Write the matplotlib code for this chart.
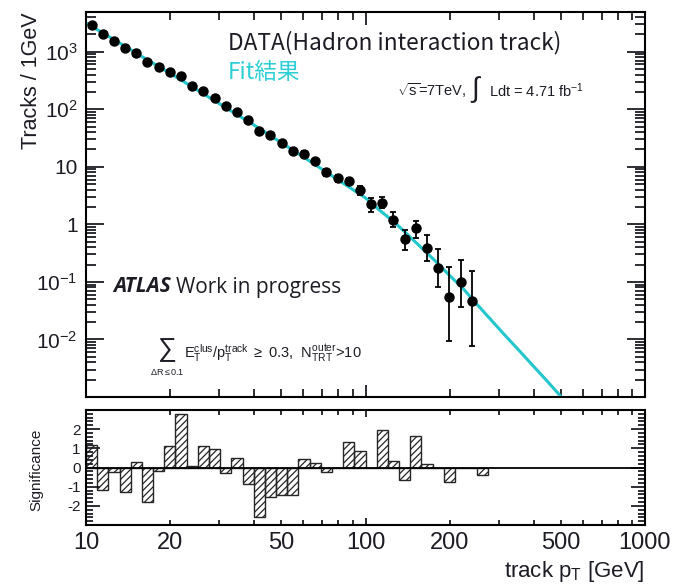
import numpy as np
import matplotlib
matplotlib.use("Agg")
import matplotlib.pyplot as plt
from matplotlib.ticker import FixedLocator, NullFormatter, FuncFormatter

plt.rcParams["font.family"] = ["Liberation Sans", "DejaVu Sans"]
plt.rcParams["mathtext.fontset"] = "custom"
plt.rcParams["mathtext.rm"] = "Liberation Sans"
plt.rcParams["mathtext.it"] = "Liberation Sans"
plt.rcParams["mathtext.bf"] = "Liberation Sans:bold"
plt.rcParams["hatch.linewidth"] = 0.9

# 0.04 wide bins in log10(pT), from 10 GeV
bin_edges = np.logspace(1.0, 2.44, 37)
pt_centres = np.sqrt(bin_edges[:-1] * bin_edges[1:])

# tracks / GeV in the filled bins
tracks = [2911, 2028, 1550, 1171, 936, 668, 534, 448, 377, 252,
          211, 160, 115, 90, 64.6, 42, 36.4, 26, 18.9, 17.0,
          12.5, 8.13, 6.39, 5.67, 3.91, 2.23, 2.39, 1.17, 0.564, 0.877,
          0.393, 0.176, 0.0543, 0.099, 0.0457]
err_lo = [55, 44, 37, 30, 26, 21, 18, 15.7, 13.8, 10.7,
          9.4, 7.8, 6.3, 5.3, 4.3, 3.3, 3.0, 2.4, 1.95, 1.76,
          1.44, 1.11, 0.94, 0.85, 0.67, 0.6, 0.45, 0.27, 0.21, 0.29,
          0.16, 0.093, 0.045, 0.063, 0.038]
err_hi = [55, 44, 37, 30, 26, 21, 18, 15.7, 13.8, 10.7,
          9.4, 7.8, 6.3, 5.3, 4.3, 3.3, 3.0, 2.4, 1.95, 1.76,
          1.44, 1.11, 0.94, 0.85, 0.67, 0.6, 0.55, 0.47, 0.25, 0.25,
          0.25, 0.19, 0.125, 0.137, 0.106]

# fitted spectrum
fit_pt = [10, 12.6, 15.8, 20, 25.1, 31.6, 39.8, 50.1, 63.1, 79.4, 100,
          112, 126, 141, 158, 178, 200, 224, 243, 282, 316, 355, 398, 447, 513]
fit_val = [3162, 1622, 832, 422, 214, 107, 53.7, 26, 12.6, 6.03, 2.88,
           1.78, 1.12, 0.676, 0.398, 0.229, 0.129, 0.0759, 0.0479, 0.0216,
           0.0117, 0.00638, 0.00347, 0.00188, 0.00089]

# (data - fit) / error per bin
significance = [1.2, -1.15, -0.25, -1.3, 0.28, -1.79, -0.16, 1.12, 2.78, 0.08,
                1.14, 0.98, -0.27, 0.47, -0.87, -2.58, -1.52, -1.44, -1.44, 0.44,
                0.21, -0.25, 0.0, 1.33, 0.86, 0.0, 1.95, 0.32, -0.63, 1.65,
                0.19, 0.0, -0.77, 0.0, 0.0, -0.38]

x_labels = {10: "10", 20: "20", 50: "50", 100: "100", 200: "200", 500: "500", 1000: "1000"}

W, H = 684, 587
ink = "#1c1c24"
cyan = "#22c6cc"


def fx(x):
    return x / W


def fy(y):
    return 1 - y / H


fig = plt.figure(figsize=(W / 100, H / 100), dpi=100)
ax = fig.add_axes([fx(86), fy(397), fx(645) - fx(86), fy(12) - fy(397)])
ax2 = fig.add_axes([fx(86), fy(525), fx(645) - fx(86), fy(410) - fy(525)])

ax.plot(fit_pt, fit_val, color=cyan, lw=2.2, zorder=2)
ax.errorbar(pt_centres[:len(tracks)], tracks, yerr=[err_lo, err_hi], fmt="o",
            color="black", ms=6.5, elinewidth=1.3, capsize=2.2, capthick=1.3, zorder=3)

ax2.bar(bin_edges[:-1], significance, width=np.diff(bin_edges), align="edge",
        fill=False, hatch="/////", edgecolor="#262626", lw=1.0)
ax2.axhline(0, color="black", lw=1.3)

for a in (ax, ax2):
    a.set_xscale("log")
    a.set_xlim(10, 1000)
    a.xaxis.set_major_locator(FixedLocator([10, 100, 1000]))
    a.xaxis.set_minor_locator(FixedLocator([v * d for d in (10, 100) for v in range(2, 10)]))
    for s in a.spines.values():
        s.set_linewidth(1.5)
    a.tick_params(which="both", direction="in", top=True, right=True, width=1.3, colors=ink)

ax.set_yscale("log")
ax.set_ylim(1e-3, 4.9e3)
ax.yaxis.set_major_locator(FixedLocator([10.0 ** k for k in range(-3, 4)]))
ax.yaxis.set_minor_locator(FixedLocator([v * 10.0 ** k for k in range(-3, 4) for v in range(2, 10)]))


def ylab(v, pos):
    k = int(round(np.log10(v)))
    if k == -3:
        return ""
    if k == 0:
        return "1"
    if k == 1:
        return "10"
    return r"$\mathregular{10^{%d}}$" % k


ax.yaxis.set_major_formatter(FuncFormatter(ylab))
ax.yaxis.set_minor_formatter(NullFormatter())
ax.xaxis.set_major_formatter(NullFormatter())
ax.xaxis.set_minor_formatter(NullFormatter())
ax.tick_params(axis="y", which="major", length=13, labelsize=15, pad=6)
ax.tick_params(axis="y", which="minor", length=7.5)
ax.tick_params(axis="x", which="major", length=9)
ax.tick_params(axis="x", which="minor", length=5.5)

ax2.set_ylim(-3, 3)
ax2.yaxis.set_major_locator(FixedLocator([-2, -1, 0, 1, 2]))
ax2.yaxis.set_minor_locator(FixedLocator(np.arange(-2.8, 3.0, 0.2)))
ax2.yaxis.set_major_formatter(FuncFormatter(lambda v, p: "%d" % v))
ax2.tick_params(axis="y", which="major", length=10, labelsize=11, pad=4)
ax2.tick_params(axis="y", which="minor", length=5)
ax2.tick_params(axis="x", which="major", length=5, labelsize=17, pad=5)
ax2.tick_params(axis="x", which="minor", length=3.5, labelsize=17, pad=5)
ax2.xaxis.set_major_formatter(FuncFormatter(lambda v, p: x_labels.get(int(round(v)), "")))
ax2.xaxis.set_minor_formatter(FuncFormatter(lambda v, p: x_labels.get(int(round(v)), "")))

ax.set_ylabel("Tracks / 1GeV", loc="top", fontsize=15.5, color=ink)
ax.yaxis.set_label_coords(-0.079, 1.0)
ax2.set_ylabel("Significance", fontsize=11, color=ink)
ax2.yaxis.set_label_coords(-0.077, 0.48)
fig.text(fx(645), fy(572), r"track p$_{\mathregular{T}}$ [GeV]", ha="right", va="center",
         fontsize=16, color=ink)

# legend-like labels and annotations
cjk = ["Noto Sans CJK JP", "DejaVu Sans"]
fig.text(fx(228), fy(43), "DATA(Hadron interaction track)", fontsize=16.3, color=ink,
         family=cjk, va="center")
fig.text(fx(228), fy(72), "Fit結果", fontsize=16.3, color="#2dcfd6", family=cjk, va="center")

fig.text(fx(397), fy(91), r"$\sqrt{\mathrm{s}}$=7TeV,", fontsize=10.5, color=ink, va="center")
fig.text(fx(470), fy(90), r"$\int$", fontsize=20, color=ink, va="center")
fig.text(fx(489), fy(91), r"Ldt = 4.71 fb$^{\mathregular{-1}}$", fontsize=10.5, color=ink, va="center")

atlas = fig.text(fx(113), fy(287), "ATLAS", fontsize=15, fontweight="bold", style="italic",
                 color=ink, va="center", family=["Open Sans", "DejaVu Sans"])
fig.canvas.draw()
bb = atlas.get_window_extent()
fig.text((bb.x1 + 5) / W, fy(287), "Work in progress", fontsize=15, color=ink, va="center",
         family=["Open Sans", "DejaVu Sans"])

# selection cut
fig.text(fx(167), fy(350), r"$\sum$", fontsize=19, color=ink, ha="center", va="center")
fig.text(fx(167), fy(372), r"$\Delta$R$\leq$0.1", fontsize=6.5, color=ink, ha="center", va="center")
fig.text(fx(184), fy(353),
         r"$\mathrm{E}_{\mathrm{T}}^{\mathrm{clus}}/\mathrm{p}_{\mathrm{T}}^{\mathrm{track}}$"
         r" $\geq$ 0.3,  $\mathrm{N}_{\mathrm{TRT}}^{\mathrm{outer}}$>10",
         fontsize=10.5, color=ink, va="center")

fig.savefig("out.png", dpi=100)
